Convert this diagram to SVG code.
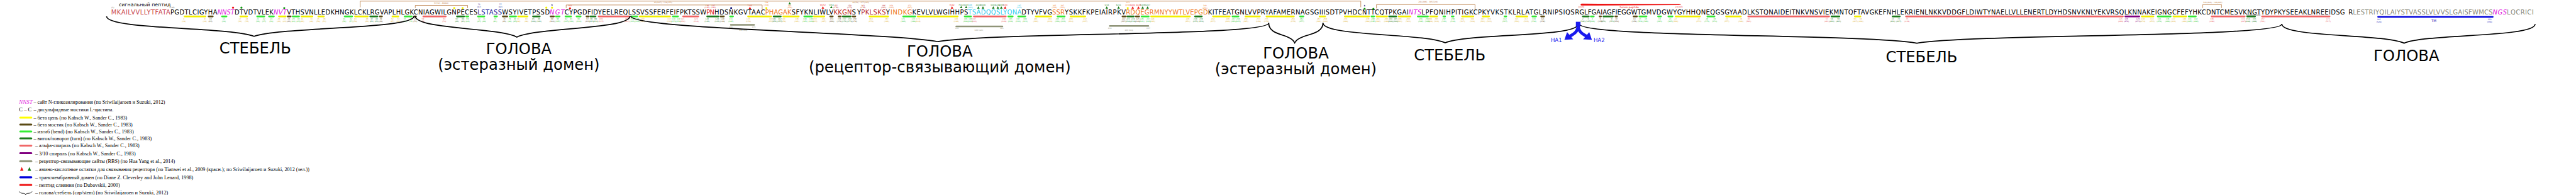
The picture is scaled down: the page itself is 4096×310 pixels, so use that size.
<svg xmlns="http://www.w3.org/2000/svg" width="4096" height="310" viewBox="0 0 4096 310">
<style>
.s{font-family:"DejaVu Sans",Verdana,sans-serif;font-size:16.5px;fill:#000}
.mi{fill:#e020e0;font-style:italic}
.n{font-family:"DejaVu Sans",Verdana,sans-serif;font-size:5px;text-anchor:middle}
.b{stroke-width:4.2;stroke-linecap:round;fill:none}
.y{stroke:#f2ee00}.g{stroke:#33e833}.dg{stroke:#1a7a1a}.br{stroke:#5a4a16}.r{stroke:#f06464}.p{stroke:#800080}.tm{stroke:#0000dd}.rb{stroke:#8f9478}
.ly{fill:#e0b030}.lg{fill:#33c833}.ldg{fill:#1a7a1a}.lbr{fill:#5a4a16}.lr{fill:#e85a5a}.lp{fill:#800080}.lb{fill:#2222bb}.lgr{fill:#999988}
.ss{stroke:#b87840;stroke-width:1.3;fill:none}
.brace{stroke:#000;stroke-width:2.8;fill:none}
.big{font-family:"DejaVu Sans",Verdana,sans-serif;font-size:40px;text-anchor:middle;fill:#000}
.leg{font-family:"Liberation Serif","Times New Roman",serif;font-size:14px;fill:#000}
.lgb{stroke-width:5;stroke-linecap:round}
</style>
<defs>
<path id="tri" d="M0,-5.5 L3.3,0.5 L-3.3,0.5Z"/>
<path id="star" d="M0,-2.6 L0.7,-0.8 L2.5,-0.8 L1.1,0.3 L1.6,2.1 L0,1 L-1.6,2.1 L-1.1,0.3 L-2.5,-0.8 L-0.7,-0.8Z"/>
</defs>
<g transform="scale(0.60745)">
<rect x="0" y="0" width="6743" height="511" fill="#fff"/>

<g id="signal-label">
<text x="311" y="17" style="font-family:'DejaVu Sans',sans-serif;font-size:13px">сигнальный пептид</text>
<text class="n" x="295" y="22" fill="#555">(1)</text>
<text class="n" x="450" y="22" fill="#555">1(16)</text>
</g>

<g id="sequence">
<text class="s" x="291" y="38" textLength="155" style="fill:#c8464e">MKAILVVLLYTFATA</text>
<text class="s" x="446" y="38" textLength="123">PGDTLCIGYHA</text>
<text class="s mi" x="569" y="38" textLength="45">NNST</text>
<text class="s" x="614" y="38" textLength="102">DTVDTVLEK</text>
<text class="s mi" x="716" y="38" textLength="35">NVT</text>
<text class="s" x="751" y="38" textLength="499">VTHSVNLLEDKHNGKLCKLRGVAPLHLGKCNIAGWILGNPECES</text>
<text class="s" x="1250" y="38" textLength="64" style="fill:#22229a">LSTASS</text>
<text class="s" x="1314" y="38" textLength="125">WSYIVETPSSD</text>
<text class="s mi" x="1439" y="38" textLength="39">NGT</text>
<text class="s" x="1478" y="38" textLength="371">CYPGDFIDYEELREQLSSVSSFERFEIFPKTSSW</text>
<text class="s" x="1849" y="38" textLength="21" style="fill:#e02020">PN</text>
<text class="s" x="1870" y="38" textLength="133">HDSNKGVTAAC</text>
<text class="s" x="2003" y="38" textLength="69" style="fill:#ee7722">PHAGAK</text>
<text class="s" x="2072" y="38" textLength="110">SFYKNLIWLV</text>
<text class="s" x="2182" y="38" textLength="48" style="fill:#b81c1c">KKGN</text>
<text class="s" x="2230" y="38" textLength="24">SY</text>
<text class="s" x="2254" y="38" textLength="65" style="fill:#b81c1c">PKLSKS</text>
<text class="s" x="2319" y="38">Y</text>
<text class="s" x="2331" y="38" textLength="57" style="fill:#ee7722">INDKG</text>
<text class="s" x="2388" y="38" textLength="146">KEVLVLWGIHHPS</text>
<text class="s" x="2534" y="38" textLength="140" style="fill:#33ccee">TSADQQSLYQNA</text>
<text class="s" x="2674" y="38" textLength="80">DTYVFVG</text>
<text class="s" x="2754" y="38" textLength="33" style="fill:#ee7722">SSR</text>
<text class="s" x="2787" y="38" textLength="160">YSKKFKPEIAIRPKV</text>
<text class="s" x="2947" y="38" textLength="215" style="fill:#ee7722">RDQEGRMNYYWTLVEPGD</text>
<text class="s" x="3162" y="38" textLength="525">KITFEATGNLVVPRYAFAMERNAGSGIIISDTPVHDCNTTCQTPKGAI</text>
<text class="s mi" x="3687" y="38" textLength="34">NTS</text>
<text class="s" x="3721" y="38" textLength="413">LPFQNIHPITIGKCPKYVKSTKLRLATGLRNIPSIQSR</text>
<text class="s" x="4134" y="38" textLength="162">GLFGAIAGFIEGGWT</text>
<text class="s" x="4296" y="38" textLength="610">GMVDGWYGYHHQNEQGSGYAADLKSTQNAIDEITNKVNSVIEKMNTQFTAVG</text>
<text class="s" x="4906" y="38" textLength="618">KEFNHLEKRIENLNKKVDDGFLDIWTYNAELLVLLENERTLDYHDSNVKNLYEKV</text>
<text class="s" x="5524" y="38" textLength="601">RSQLKNNAKEIGNGCFEFYHKCDNTCMESVKNGTYDYPKYSEEAKLNREEIDS</text>
<text class="s" x="6125" y="38" textLength="34">GR</text>
<text class="s" x="6159" y="38" textLength="366" style="fill:#8a8a7a">LESTRIYQILAIYSTVASSLVLVVSLGAISFWMCS</text>
<text class="s mi" x="6525" y="38" textLength="37">NGS</text>
<text class="s" x="6562" y="38" textLength="70" style="fill:#8a8a7a">LQCRICI</text>
<line x1="5880" y1="39.5" x2="5917" y2="39.5" stroke="#777" stroke-width="1.5"/>
</g>

<g id="secondary-structure">
<g class="b y">
<line x1="483" y1="43" x2="538" y2="43"/><line x1="629" y1="43" x2="647" y2="43"/><line x1="730" y1="43" x2="748" y2="43"/><line x1="789" y1="43" x2="818" y2="43"/><line x1="833" y1="43" x2="848" y2="43"/><line x1="929" y1="43" x2="963" y2="43"/><line x1="1027" y1="43" x2="1043" y2="43"/><line x1="1356" y1="43" x2="1381" y2="43"/><line x1="1674" y1="43" x2="1754" y2="43"/><line x1="1958" y1="43" x2="2019" y2="43"/><line x1="2050" y1="43" x2="2091" y2="43"/><line x1="2130" y1="43" x2="2158" y2="43"/><line x1="2276" y1="43" x2="2325" y2="43"/><line x1="2402" y1="43" x2="2507" y2="43"/><line x1="2711" y1="43" x2="2752" y2="43"/><line x1="2802" y1="43" x2="2841" y2="43"/><line x1="3013" y1="43" x2="3115" y2="43"/><line x1="3175" y1="43" x2="3219" y2="43"/><line x1="3260" y1="43" x2="3298" y2="43"/><line x1="3315" y1="43" x2="3387" y2="43"/><line x1="3454" y1="43" x2="3469" y2="43"/><line x1="3520" y1="43" x2="3584" y2="43"/><line x1="3603" y1="43" x2="3631" y2="43"/><line x1="3661" y1="43" x2="3692" y2="43"/><line x1="3743" y1="43" x2="3762" y2="43"/><line x1="3827" y1="43" x2="3857" y2="43"/><line x1="3881" y1="43" x2="3898" y2="43"/><line x1="3969" y1="43" x2="3998" y2="43"/><line x1="4386" y1="43" x2="4450" y2="43"/><line x1="4518" y1="43" x2="4557" y2="43"/><line x1="4855" y1="43" x2="4870" y2="43"/><line x1="5606" y1="43" x2="5637" y2="43"/><line x1="5689" y1="43" x2="5723" y2="43"/>
</g>
<g class="b g">
<line x1="581" y1="43" x2="593" y2="43"/><line x1="673" y1="43" x2="692" y2="43"/><line x1="704" y1="43" x2="717" y2="43"/><line x1="766" y1="43" x2="783" y2="43"/><line x1="902" y1="43" x2="922" y2="43"/><line x1="1059" y1="43" x2="1078" y2="43"/><line x1="1220" y1="43" x2="1226" y2="43"/><line x1="1251" y1="43" x2="1268" y2="43"/><line x1="1294" y1="43" x2="1301" y2="43"/><line x1="1334" y1="43" x2="1351" y2="43"/><line x1="1455" y1="43" x2="1465" y2="43"/><line x1="1480" y1="43" x2="1495" y2="43"/><line x1="1509" y1="43" x2="1520" y2="43"/><line x1="1652" y1="43" x2="1668" y2="43"/><line x1="1761" y1="43" x2="1775" y2="43"/><line x1="1911" y1="43" x2="1919" y2="43"/><line x1="2105" y1="43" x2="2126" y2="43"/><line x1="2364" y1="43" x2="2396" y2="43"/><line x1="2525" y1="43" x2="2542" y2="43"/><line x1="2639" y1="43" x2="2651" y2="43"/><line x1="2665" y1="43" x2="2684" y2="43"/><line x1="2768" y1="43" x2="2787" y2="43"/><line x1="2988" y1="43" x2="3007" y2="43"/><line x1="3226" y1="43" x2="3242" y2="43"/><line x1="3403" y1="43" x2="3412" y2="43"/><line x1="3590" y1="43" x2="3597" y2="43"/><line x1="3711" y1="43" x2="3738" y2="43"/><line x1="3778" y1="43" x2="3783" y2="43"/><line x1="3800" y1="43" x2="3805" y2="43"/><line x1="3938" y1="43" x2="3943" y2="43"/><line x1="4011" y1="43" x2="4021" y2="43"/><line x1="4164" y1="43" x2="4172" y2="43"/><line x1="4291" y1="43" x2="4310" y2="43"/><line x1="4340" y1="43" x2="4348" y2="43"/><line x1="4367" y1="43" x2="4378" y2="43"/><line x1="4469" y1="43" x2="4488" y2="43"/><line x1="5648" y1="43" x2="5682" y2="43"/><line x1="5729" y1="43" x2="5748" y2="43"/>
</g>
<g class="b dg">
<line x1="969" y1="43" x2="988" y2="43"/><line x1="1196" y1="43" x2="1215" y2="43"/><line x1="1395" y1="43" x2="1413" y2="43"/><line x1="1545" y1="43" x2="1559" y2="43"/><line x1="1851" y1="43" x2="1881" y2="43"/><line x1="2025" y1="43" x2="2044" y2="43"/><line x1="2206" y1="43" x2="2227" y2="43"/><line x1="2951" y1="43" x2="2968" y2="43"/><line x1="3128" y1="43" x2="3146" y2="43"/><line x1="3636" y1="43" x2="3655" y2="43"/><line x1="4143" y1="43" x2="4159" y2="43"/><line x1="4197" y1="43" x2="4222" y2="43"/><line x1="4794" y1="43" x2="4815" y2="43"/><line x1="4954" y1="43" x2="4973" y2="43"/><line x1="5882" y1="43" x2="5903" y2="43"/>
</g>
<g class="b br">
<line x1="546" y1="43" x2="557" y2="43"/><line x1="753" y1="43" x2="761" y2="43"/><line x1="994" y1="43" x2="1000" y2="43"/><line x1="1084" y1="43" x2="1089" y2="43"/><line x1="1316" y1="43" x2="1328" y2="43"/><line x1="1441" y1="43" x2="1450" y2="43"/><line x1="1535" y1="43" x2="1541" y2="43"/><line x1="1886" y1="43" x2="1895" y2="43"/><line x1="2173" y1="43" x2="2180" y2="43"/><line x1="2195" y1="43" x2="2201" y2="43"/><line x1="2232" y1="43" x2="2239" y2="43"/><line x1="2938" y1="43" x2="2947" y2="43"/><line x1="2973" y1="43" x2="2982" y2="43"/><line x1="4034" y1="43" x2="4042" y2="43"/><line x1="4187" y1="43" x2="4191" y2="43"/><line x1="4228" y1="43" x2="4233" y2="43"/><line x1="4276" y1="43" x2="4285" y2="43"/>
</g>
<g class="b r">
<line x1="1108" y1="43" x2="1167" y2="43"/><line x1="1567" y1="43" x2="1647" y2="43"/><line x1="1788" y1="43" x2="1828" y2="43"/><line x1="2549" y1="43" x2="2633" y2="43"/><line x1="4576" y1="43" x2="4788" y2="43"/><line x1="4989" y1="43" x2="5557" y2="43"/><line x1="5789" y1="43" x2="5876" y2="43"/><line x1="5921" y1="43" x2="6098" y2="43"/>
</g>
<line class="b p" x1="5563" y1="43" x2="5600" y2="43"/>
<line class="b tm" x1="6225" y1="44" x2="6525" y2="44"/>
<g class="b rb">
<line x1="1913" y1="65" x2="1974" y2="65"/><line x1="2503" y1="69" x2="2624" y2="69"/><line x1="2905" y1="68" x2="3006" y2="68"/>
</g>
</g>

<g id="residue-numbers">
<g class="n ly">
<text x="481" y="51">4<tspan x="481" dy="6.5">(19)</tspan></text><text x="536" y="51">9<tspan x="536" dy="6.5">(24)</tspan></text><text x="628" y="51">17<tspan x="628" dy="6.5">(32)</tspan></text><text x="646" y="51">18<tspan x="646" dy="6.5">(33)</tspan></text><text x="730" y="51">26<tspan x="730" dy="6.5">(41)</tspan></text><text x="745" y="51">27<tspan x="745" dy="6.5">(42)</tspan></text><text x="791" y="51">31<tspan x="791" dy="6.5">(46)</tspan></text><text x="815" y="51">33<tspan x="815" dy="6.5">(48)</tspan></text><text x="833" y="51">35<tspan x="833" dy="6.5">(50)</tspan></text><text x="849" y="51">36<tspan x="849" dy="6.5">(51)</tspan></text><text x="930" y="51">43<tspan x="930" dy="6.5">(58)</tspan></text><text x="961" y="51">46<tspan x="961" dy="6.5">(61)</tspan></text><text x="1027" y="51">52<tspan x="1027" dy="6.5">(67)</tspan></text><text x="1043" y="51">53<tspan x="1043" dy="6.5">(68)</tspan></text><text x="1357" y="51">81<tspan x="1357" dy="6.5">(96)</tspan></text><text x="1378" y="51">83<tspan x="1378" dy="6.5">(98)</tspan></text><text x="1682" y="51">110<tspan x="1682" dy="6.5">(125)</tspan></text><text x="1752" y="51">117<tspan x="1752" dy="6.5">(132)</tspan></text><text x="1959" y="51">135<tspan x="1959" dy="6.5">(150)</tspan></text><text x="2018" y="51">140<tspan x="2018" dy="6.5">(155)</tspan></text><text x="2051" y="51">143<tspan x="2051" dy="6.5">(158)</tspan></text><text x="2086" y="51">146<tspan x="2086" dy="6.5">(161)</tspan></text><text x="2133" y="51">150<tspan x="2133" dy="6.5">(165)</tspan></text><text x="2156" y="51">152<tspan x="2156" dy="6.5">(167)</tspan></text><text x="2280" y="51">163<tspan x="2280" dy="6.5">(178)</tspan></text><text x="2321" y="51">167<tspan x="2321" dy="6.5">(182)</tspan></text><text x="2403" y="51">174<tspan x="2403" dy="6.5">(189)</tspan></text><text x="2503" y="51">183<tspan x="2503" dy="6.5">(198)</tspan></text><text x="2711" y="51">201<tspan x="2711" dy="6.5">(216)</tspan></text><text x="2748" y="51">204<tspan x="2748" dy="6.5">(219)</tspan></text><text x="2803" y="51">209<tspan x="2803" dy="6.5">(224)</tspan></text><text x="2840" y="51">212<tspan x="2840" dy="6.5">(227)</tspan></text><text x="3017" y="51">228<tspan x="3017" dy="6.5">(243)</tspan></text><text x="3109" y="51">236<tspan x="3109" dy="6.5">(251)</tspan></text><text x="3175" y="51">242<tspan x="3175" dy="6.5">(257)</tspan></text><text x="3214" y="51">246<tspan x="3214" dy="6.5">(261)</tspan></text><text x="3261" y="51">250<tspan x="3261" dy="6.5">(265)</tspan></text><text x="3294" y="51">253<tspan x="3294" dy="6.5">(268)</tspan></text><text x="3315" y="51">255<tspan x="3315" dy="6.5">(270)</tspan></text><text x="3385" y="51">261<tspan x="3385" dy="6.5">(276)</tspan></text><text x="3452" y="51">267<tspan x="3452" dy="6.5">(282)</tspan></text><text x="3469" y="51">269<tspan x="3469" dy="6.5">(284)</tspan></text><text x="3522" y="51">274<tspan x="3522" dy="6.5">(289)</tspan></text><text x="3580" y="51">279<tspan x="3580" dy="6.5">(294)</tspan></text><text x="3607" y="51">281<tspan x="3607" dy="6.5">(296)</tspan></text><text x="3629" y="51">283<tspan x="3629" dy="6.5">(298)</tspan></text><text x="3664" y="51">286<tspan x="3664" dy="6.5">(301)</tspan></text><text x="3686" y="51">288<tspan x="3686" dy="6.5">(303)</tspan></text><text x="3744" y="51">294<tspan x="3744" dy="6.5">(309)</tspan></text><text x="3760" y="51">295<tspan x="3760" dy="6.5">(310)</tspan></text><text x="3828" y="51">302<tspan x="3828" dy="6.5">(317)</tspan></text><text x="3854" y="51">304<tspan x="3854" dy="6.5">(319)</tspan></text><text x="3881" y="51">307<tspan x="3881" dy="6.5">(322)</tspan></text><text x="3898" y="51">308<tspan x="3898" dy="6.5">(323)</tspan></text><text x="3970" y="51">315<tspan x="3970" dy="6.5">(330)</tspan></text><text x="3995" y="51">317<tspan x="3995" dy="6.5">(332)</tspan></text><text x="4386" y="51">22<tspan x="4386" dy="6.5">(366)</tspan></text><text x="4447" y="51">27<tspan x="4447" dy="6.5">(371)</tspan></text><text x="4520" y="51">33<tspan x="4520" dy="6.5">(377)</tspan></text><text x="4557" y="51">36<tspan x="4557" dy="6.5">(380)</tspan></text><text x="4856" y="51">63<tspan x="4856" dy="6.5">(407)</tspan></text><text x="4871" y="51">64<tspan x="4871" dy="6.5">(408)</tspan></text><text x="5609" y="51">130<tspan x="5609" dy="6.5">(474)</tspan></text><text x="5633" y="51">132<tspan x="5633" dy="6.5">(476)</tspan></text><text x="5689" y="51">137<tspan x="5689" dy="6.5">(481)</tspan></text><text x="5718" y="51">140<tspan x="5718" dy="6.5">(484)</tspan></text>
</g>
<g class="n lg">
<text x="586" y="51">13<tspan x="586" dy="6.5">(28)</tspan></text><text x="675" y="51">21<tspan x="675" dy="6.5">(36)</tspan></text><text x="691" y="51">22<tspan x="691" dy="6.5">(37)</tspan></text><text x="710" y="51">24<tspan x="710" dy="6.5">(39)</tspan></text><text x="768" y="51">29<tspan x="768" dy="6.5">(44)</tspan></text><text x="781" y="51">30<tspan x="781" dy="6.5">(45)</tspan></text><text x="901" y="51">41<tspan x="901" dy="6.5">(56)</tspan></text><text x="919" y="51">42<tspan x="919" dy="6.5">(57)</tspan></text><text x="1060" y="51">55<tspan x="1060" dy="6.5">(70)</tspan></text><text x="1076" y="51">56<tspan x="1076" dy="6.5">(71)</tspan></text><text x="1224" y="51">69<tspan x="1224" dy="6.5">(84)</tspan></text><text x="1254" y="51">72<tspan x="1254" dy="6.5">(87)</tspan></text><text x="1267" y="51">73<tspan x="1267" dy="6.5">(88)</tspan></text><text x="1296" y="51">76<tspan x="1296" dy="6.5">(91)</tspan></text><text x="1334" y="51">79<tspan x="1334" dy="6.5">(94)</tspan></text><text x="1348" y="51">80<tspan x="1348" dy="6.5">(95)</tspan></text><text x="1460" y="51">90<tspan x="1460" dy="6.5">(105)</tspan></text><text x="1482" y="51">92<tspan x="1482" dy="6.5">(107)</tspan></text><text x="1495" y="51">93<tspan x="1495" dy="6.5">(108)</tspan></text><text x="1515" y="51">95<tspan x="1515" dy="6.5">(110)</tspan></text><text x="1655" y="51">108<tspan x="1655" dy="6.5">(123)</tspan></text><text x="1668" y="51">109<tspan x="1668" dy="6.5">(124)</tspan></text><text x="1763" y="51">118<tspan x="1763" dy="6.5">(133)</tspan></text><text x="1776" y="51">119<tspan x="1776" dy="6.5">(134)</tspan></text><text x="1913" y="51">131<tspan x="1913" dy="6.5">(146)</tspan></text><text x="2107" y="51">148<tspan x="2107" dy="6.5">(163)</tspan></text><text x="2123" y="51">149<tspan x="2123" dy="6.5">(164)</tspan></text><text x="2364" y="51">171<tspan x="2364" dy="6.5">(186)</tspan></text><text x="2391" y="51">173<tspan x="2391" dy="6.5">(188)</tspan></text><text x="2528" y="51">185<tspan x="2528" dy="6.5">(200)</tspan></text><text x="2540" y="51">186<tspan x="2540" dy="6.5">(201)</tspan></text><text x="2645" y="51">195<tspan x="2645" dy="6.5">(210)</tspan></text><text x="2665" y="51">197<tspan x="2665" dy="6.5">(212)</tspan></text><text x="2683" y="51">198<tspan x="2683" dy="6.5">(213)</tspan></text><text x="2768" y="51">205<tspan x="2768" dy="6.5">(220)</tspan></text><text x="2783" y="51">207<tspan x="2783" dy="6.5">(222)</tspan></text><text x="2989" y="51">226<tspan x="2989" dy="6.5">(241)</tspan></text><text x="3006" y="51">227<tspan x="3006" dy="6.5">(242)</tspan></text><text x="3229" y="51">247<tspan x="3229" dy="6.5">(262)</tspan></text><text x="3241" y="51">248<tspan x="3241" dy="6.5">(263)</tspan></text><text x="3407" y="51">262<tspan x="3407" dy="6.5">(277)</tspan></text><text x="3594" y="51">280<tspan x="3594" dy="6.5">(295)</tspan></text><text x="3719" y="51">291<tspan x="3719" dy="6.5">(306)</tspan></text><text x="3736" y="51">293<tspan x="3736" dy="6.5">(308)</tspan></text><text x="3780" y="51">297<tspan x="3780" dy="6.5">(312)</tspan></text><text x="3803" y="51">299<tspan x="3803" dy="6.5">(314)</tspan></text><text x="3939" y="51">312<tspan x="3939" dy="6.5">(327)</tspan></text><text x="4015" y="51">319<tspan x="4015" dy="6.5">(334)</tspan></text><text x="4168" y="51">4<tspan x="4168" dy="6.5">(348)</tspan></text><text x="4293" y="51">15<tspan x="4293" dy="6.5">(359)</tspan></text><text x="4308" y="51">16<tspan x="4308" dy="6.5">(360)</tspan></text><text x="4344" y="51">19<tspan x="4344" dy="6.5">(363)</tspan></text><text x="4372" y="51">21<tspan x="4372" dy="6.5">(365)</tspan></text><text x="4468" y="51">29<tspan x="4468" dy="6.5">(373)</tspan></text><text x="4488" y="51">30<tspan x="4488" dy="6.5">(374)</tspan></text><text x="5652" y="51">134<tspan x="5652" dy="6.5">(478)</tspan></text><text x="5674" y="51">136<tspan x="5674" dy="6.5">(480)</tspan></text><text x="5732" y="51">141<tspan x="5732" dy="6.5">(485)</tspan></text><text x="5748" y="51">142<tspan x="5748" dy="6.5">(486)</tspan></text>
</g>
<g class="n ldg">
<text x="973" y="51">47<tspan x="973" dy="6.5">(62)</tspan></text><text x="986" y="51">48<tspan x="986" dy="6.5">(63)</tspan></text><text x="1196" y="51">67<tspan x="1196" dy="6.5">(82)</tspan></text><text x="1212" y="51">68<tspan x="1212" dy="6.5">(83)</tspan></text><text x="1396" y="51">85<tspan x="1396" dy="6.5">(100)</tspan></text><text x="1411" y="51">86<tspan x="1411" dy="6.5">(101)</tspan></text><text x="1548" y="51">98<tspan x="1548" dy="6.5">(113)</tspan></text><text x="1559" y="51">99<tspan x="1559" dy="6.5">(114)</tspan></text><text x="1851" y="51">126<tspan x="1851" dy="6.5">(141)</tspan></text><text x="1877" y="51">128<tspan x="1877" dy="6.5">(143)</tspan></text><text x="2027" y="51">141<tspan x="2027" dy="6.5">(156)</tspan></text><text x="2041" y="51">142<tspan x="2041" dy="6.5">(157)</tspan></text><text x="2210" y="51">157<tspan x="2210" dy="6.5">(172)</tspan></text><text x="2224" y="51">158<tspan x="2224" dy="6.5">(173)</tspan></text><text x="2953" y="51">223<tspan x="2953" dy="6.5">(238)</tspan></text><text x="2966" y="51">224<tspan x="2966" dy="6.5">(239)</tspan></text><text x="3129" y="51">238<tspan x="3129" dy="6.5">(253)</tspan></text><text x="3144" y="51">239<tspan x="3144" dy="6.5">(254)</tspan></text><text x="3640" y="51">284<tspan x="3640" dy="6.5">(299)</tspan></text><text x="3653" y="51">285<tspan x="3653" dy="6.5">(300)</tspan></text><text x="4143" y="51">2<tspan x="4143" dy="6.5">(346)</tspan></text><text x="4157" y="51">3<tspan x="4157" dy="6.5">(347)</tspan></text><text x="4197" y="51">7<tspan x="4197" dy="6.5">(351)</tspan></text><text x="4219" y="51">9<tspan x="4219" dy="6.5">(353)</tspan></text><text x="4795" y="51">58<tspan x="4795" dy="6.5">(402)</tspan></text><text x="4812" y="51">59<tspan x="4812" dy="6.5">(403)</tspan></text><text x="4954" y="51">72<tspan x="4954" dy="6.5">(416)</tspan></text><text x="4970" y="51">73<tspan x="4970" dy="6.5">(417)</tspan></text><text x="5884" y="51">154<tspan x="5884" dy="6.5">(498)</tspan></text><text x="5901" y="51">155<tspan x="5901" dy="6.5">(499)</tspan></text>
</g>
<g class="n lbr">
<text x="551" y="51">10<tspan x="551" dy="6.5">(25)</tspan></text><text x="756" y="51">28<tspan x="756" dy="6.5">(43)</tspan></text><text x="997" y="51">49<tspan x="997" dy="6.5">(64)</tspan></text><text x="1087" y="51">57<tspan x="1087" dy="6.5">(72)</tspan></text><text x="1320" y="51">78<tspan x="1320" dy="6.5">(93)</tspan></text><text x="1445" y="51">89<tspan x="1445" dy="6.5">(104)</tspan></text><text x="1538" y="51">97<tspan x="1538" dy="6.5">(112)</tspan></text><text x="1891" y="51">129<tspan x="1891" dy="6.5">(144)</tspan></text><text x="2177" y="51">154<tspan x="2177" dy="6.5">(169)</tspan></text><text x="2197" y="51">156<tspan x="2197" dy="6.5">(171)</tspan></text><text x="2237" y="51">159<tspan x="2237" dy="6.5">(174)</tspan></text><text x="2941" y="51">222<tspan x="2941" dy="6.5">(237)</tspan></text><text x="2978" y="51">225<tspan x="2978" dy="6.5">(240)</tspan></text><text x="4038" y="51">321<tspan x="4038" dy="6.5">(336)</tspan></text><text x="4189" y="51">6<tspan x="4189" dy="6.5">(350)</tspan></text><text x="4231" y="51">10<tspan x="4231" dy="6.5">(354)</tspan></text><text x="4278" y="51">14<tspan x="4278" dy="6.5">(358)</tspan></text>
</g>
<g class="n lr">
<text x="1107" y="51">59<tspan x="1107" dy="6.5">(74)</tspan></text><text x="1163" y="51">64<tspan x="1163" dy="6.5">(79)</tspan></text><text x="1573" y="51">100<tspan x="1573" dy="6.5">(115)</tspan></text><text x="1641" y="51">107<tspan x="1641" dy="6.5">(122)</tspan></text><text x="1787" y="51">121<tspan x="1787" dy="6.5">(136)</tspan></text><text x="1822" y="51">124<tspan x="1822" dy="6.5">(139)</tspan></text><text x="2550" y="51">187<tspan x="2550" dy="6.5">(202)</tspan></text><text x="2628" y="51">194<tspan x="2628" dy="6.5">(209)</tspan></text><text x="4577" y="51">38<tspan x="4577" dy="6.5">(382)</tspan></text><text x="4782" y="51">57<tspan x="4782" dy="6.5">(401)</tspan></text><text x="4992" y="51">75<tspan x="4992" dy="6.5">(419)</tspan></text><text x="5551" y="51">125<tspan x="5551" dy="6.5">(469)</tspan></text><text x="5790" y="51">146<tspan x="5790" dy="6.5">(490)</tspan></text><text x="5872" y="51">153<tspan x="5872" dy="6.5">(497)</tspan></text><text x="5923" y="51">157<tspan x="5923" dy="6.5">(501)</tspan></text><text x="6094" y="51">173<tspan x="6094" dy="6.5">(517)</tspan></text>
</g>
<g class="n lp">
<text x="5566" y="51">126<tspan x="5566" dy="6.5">(470)</tspan></text><text x="5596" y="51">129<tspan x="5596" dy="6.5">(473)</tspan></text>
</g>
<g class="n lb">
<text x="6227" y="52">185<tspan x="6227" dy="6.5">(529)</tspan></text><text x="6517" y="52">222<tspan x="6517" dy="6.5">(556)</tspan></text>
<text x="6371" y="58" style="font-size:9px">TM</text>
</g>
<g class="n lgr">
<text x="1913" y="73">131</text><text x="1973" y="73">135</text><text x="1945" y="80">130 loop</text>
<text x="2505" y="76">183</text><text x="2622" y="76">193</text><text x="2562" y="81">180 helix</text>
<text x="2905" y="75">219</text><text x="3006" y="75">227</text><text x="2955" y="80">220 loop</text>
</g>
</g>

<g id="site-markers">
<circle cx="610" cy="20" r="2.6" fill="#ee1111"/><circle cx="632" cy="20" r="2.6" fill="#119911"/><circle cx="744" cy="21" r="2.6" fill="#119911"/>
<circle cx="1189" cy="21" r="2.6" fill="#f0f000"/><circle cx="1211" cy="21" r="2.6" fill="#f0f000"/><circle cx="1430" cy="20" r="2.6" fill="#f0f000"/><circle cx="1445" cy="20" r="2.6" fill="#f0f000"/>
<circle cx="1914" cy="21" r="2.6" fill="#141470"/><circle cx="2006" cy="21" r="2.6" fill="#f0f000"/><circle cx="2952" cy="21" r="2.6" fill="#f0f000"/>
<circle cx="3572" cy="23" r="2.6" fill="#119911"/><circle cx="3595" cy="23" r="2.6" fill="#119911"/>
<use href="#star" x="1445" y="13" fill="#141470"/><use href="#star" x="3572" y="15" fill="#141470"/>
<g fill="#ee1111">
<use href="#tri" x="1492" y="23"/><use href="#tri" x="1963" y="23"/><use href="#tri" x="2154" y="22"/><use href="#tri" x="2492" y="22"/><use href="#tri" x="2631" y="22"/><use href="#tri" x="2965" y="22"/><use href="#tri" x="2980" y="22"/>
</g>
<g fill="#117711">
<use href="#tri" x="2067" y="11"/><use href="#tri" x="2176" y="21"/><use href="#tri" x="2516" y="21"/><use href="#tri" x="2529" y="21"/><use href="#tri" x="2561" y="22"/><use href="#tri" x="2573" y="22"/><use href="#tri" x="2600" y="22"/><use href="#tri" x="2612" y="22"/><use href="#tri" x="2621" y="22"/><use href="#tri" x="2897" y="22"/><use href="#tri" x="2928" y="22"/><use href="#tri" x="2991" y="22"/><use href="#tri" x="3004" y="22"/>
</g>
<g class="n" fill="#ee1111">
<text x="1492" y="16">Y93</text><text x="1963" y="16">T135</text><text x="2154" y="14">W152</text><text x="2492" y="15">H182</text><text x="2631" y="15">Y194</text><text x="2965" y="15">D224</text><text x="2980" y="15">Q225</text>
</g>
<g class="n" fill="#117711">
<text x="2176" y="14">V154</text><text x="2516" y="14">P184</text><text x="2529" y="14">S185</text><text x="2561" y="15">A188</text><text x="2573" y="15">D189</text><text x="2600" y="15">Q191</text><text x="2612" y="15">S192</text><text x="2621" y="15">L193</text><text x="2897" y="15">I218</text><text x="2928" y="15">K221</text><text x="2991" y="15">E226</text><text x="3004" y="15">G227</text>
</g>
<g class="n" fill="#333399"><text x="1254" y="13">72<tspan x="1254" dy="6">(87)</tspan></text><text x="1310" y="13">77<tspan x="1310" dy="6">(92)</tspan></text></g>
<g class="n" fill="#e02020"><text x="1851" y="16">126<tspan x="1851" dy="6">(141)</tspan></text><text x="1867" y="16">127<tspan x="1867" dy="6">(142)</tspan></text></g>
<g class="n" fill="#b81c1c"><text x="2188" y="16">155<tspan x="2188" dy="6">(170)</tspan></text><text x="2224" y="16">158<tspan x="2224" dy="6">(173)</tspan></text><text x="2259" y="16">161<tspan x="2259" dy="6">(176)</tspan></text><text x="2313" y="16">166<tspan x="2313" dy="6">(181)</tspan></text></g>
<g class="n" fill="#ee7722"><text x="2006" y="8">139<tspan x="2006" dy="6">(154)</tspan></text><text x="2067" y="16">144<tspan x="2067" dy="6">(159)</tspan></text><text x="2333" y="16">168<tspan x="2333" dy="6">(183)</tspan></text><text x="2381" y="16">172<tspan x="2381" dy="6">(187)</tspan></text><text x="2760" y="16">205<tspan x="2760" dy="6">(220)</tspan></text><text x="2781" y="16">207<tspan x="2781" dy="6">(222)</tspan></text><text x="2952" y="8">223<tspan x="2952" dy="6">(238)</tspan></text><text x="3154" y="17">240<tspan x="3154" dy="6">(255)</tspan></text></g>
<g class="n" fill="#22bbdd"><text x="2540" y="15">186<tspan x="2540" dy="6">(201)</tspan></text><text x="2668" y="16">197<tspan x="2668" dy="6">(212)</tspan></text></g>
</g>

<g id="fusion-peptide">
<path d="M4140,9.5 L4395,10.8 Q4406,12 4395,13.2 L4140,14.5 A2.5,2.5 0 0 1 4140,9.5Z" fill="#ee1111"/>
<text class="n" x="4139" y="20" fill="#ee1111">1(345)</text>
<text class="n" x="4395" y="20" fill="#ee1111">23(367)</text>
<text x="4265" y="22" fill="#ee1111" style="font-family:'DejaVu Sans',sans-serif;font-size:7px;text-anchor:middle">fusion peptide</text>
</g>

<g id="connectors">
<g class="ss">
<path d="M943,19 V3 H3562 V19"/>
<path d="M1087,21 V14 H1224 V21"/>
<path d="M1482,21 V13 H1995 V24"/>
<path d="M3603,22 V12 H3861 V23"/>
<path d="M5766,21 V12 H5815 V21"/>
</g>
<g class="n" fill="#b87840">
<text x="2253" y="8.5">44(59) - 277(292)</text>
<text x="1155" y="10">57(72) - 69(84)</text>
<text x="1736" y="9">92(107) - 138(153)</text>
<text x="3738" y="7">281(296) - 305(320)</text>
<text x="5792" y="8">144(488) - 148(492)</text>
</g>
<g class="brace">
<path d="M279,43 C279,78 599,70 665,95 C736,70 1084,77 1084,42"/>
<path d="M1087,42 C1087,77 1308,72 1353,97 C1402,72 1649,77 1649,42"/>
<path d="M1651,42 C1651,77 2318,84 2455,109 C2602,84 3321,95 3321,60"/>
<path d="M3321,60 C3321,95 3377,87 3389,112 C3402,87 3463,95 3463,60"/>
<path d="M3463,60 C3463,95 3729,87 3783,112 C3842,87 4131,98 4131,63"/>
<path d="M4135,63 C4135,98 4867,88 5017,113 C5180,88 5973,98 5973,63"/>
<path d="M5973,63 C5973,98 6239,88 6293,113 C6351,88 6636,98 6636,63"/>
</g>
</g>

<g id="cleavage-arrow" fill="#1a1aee" stroke="none">
<rect x="4125" y="57" width="12" height="12"/>
<path d="M4131,64 C4131,82 4122,88 4109,95" stroke="#1a1aee" stroke-width="8" fill="none"/>
<path d="M4131,64 C4131,82 4140,88 4153,95" stroke="#1a1aee" stroke-width="8" fill="none"/>
<polygon points="4095,104 4102,84 4118,103"/>
<polygon points="4167,104 4160,84 4144,103"/>
<text x="4074" y="110" style="font-family:'DejaVu Sans',sans-serif;font-size:14px;text-anchor:middle">HA1</text>
<text x="4186" y="110" style="font-family:'DejaVu Sans',sans-serif;font-size:14px;text-anchor:middle">HA2</text>
</g>

<g id="label-stem-1"><text class="big" x="668" y="140">СТЕБЕЛЬ</text></g>
<g id="label-head-esterase-1"><text class="big" x="1358" y="142">ГОЛОВА</text><text class="big" x="1358" y="182">(эстеразный домен)</text></g>
<g id="label-head-rbd"><text class="big" x="2460" y="148">ГОЛОВА</text><text class="big" x="2460" y="190">(рецептор-связывающий домен)</text></g>
<g id="label-head-esterase-2"><text class="big" x="3392" y="153">ГОЛОВА</text><text class="big" x="3392" y="194">(эстеразный домен)</text></g>
<g id="label-stem-2"><text class="big" x="3795" y="158">СТЕБЕЛЬ</text></g>
<g id="label-stem-3"><text class="big" x="5030" y="163">СТЕБЕЛЬ</text></g>
<g id="label-head-last"><text class="big" x="6299" y="160">ГОЛОВА</text></g>

<g id="legend">
<text class="leg" x="50" y="272" textLength="35" lengthAdjust="spacingAndGlyphs" style="fill:#e020e0;font-style:italic">NNST</text>
<text class="leg" x="88" y="272" textLength="344" lengthAdjust="spacingAndGlyphs">– сайт N-гликозилирования (по Sriwilaijaroen и Suzuki, 2012)</text>
<text class="leg" x="50" y="292">C <tspan fill="#b08060">–</tspan> C</text>
<text class="leg" x="88" y="292" textLength="209" lengthAdjust="spacingAndGlyphs">– дисульфидные мостики L-цистина.</text>
<line class="lgb" x1="53" y1="308" x2="82" y2="308" stroke="#ffff00"/>
<text class="leg" x="88" y="313" textLength="245" lengthAdjust="spacingAndGlyphs">– бета цепь (по Kabsch W., Sander C., 1983)</text>
<line class="lgb" x1="53" y1="326" x2="82" y2="326" stroke="#5a4a14"/>
<text class="leg" x="88" y="331" textLength="259" lengthAdjust="spacingAndGlyphs">– бета мостик (по Kabsch W., Sander C., 1983)</text>
<line class="lgb" x1="53" y1="344" x2="82" y2="344" stroke="#33ee33"/>
<text class="leg" x="88" y="349" textLength="262" lengthAdjust="spacingAndGlyphs">– изгиб (bend) (по Kabsch W., Sander C., 1983)</text>
<line class="lgb" x1="53" y1="362" x2="82" y2="362" stroke="#1a7a1a"/>
<text class="leg" x="88" y="367" textLength="309" lengthAdjust="spacingAndGlyphs">– виток/поворот (turn) (по Kabsch W., Sander C., 1983)</text>
<line class="lgb" x1="53" y1="381" x2="82" y2="381" stroke="#f06868"/>
<text class="leg" x="92" y="386" textLength="273" lengthAdjust="spacingAndGlyphs">– альфа-спираль (по Kabsch W., Sander C., 1983)</text>
<line class="lgb" x1="53" y1="401" x2="82" y2="401" stroke="#800080"/>
<text class="leg" x="92" y="406" textLength="263" lengthAdjust="spacingAndGlyphs">– 3/10 спираль (по Kabsch W., Sander C., 1983)</text>
<line class="lgb" x1="53" y1="422" x2="82" y2="422" stroke="#8f9478"/>
<text class="leg" x="92" y="427" textLength="366" lengthAdjust="spacingAndGlyphs">– рецептор-связывающие сайты (RBS) (по Hua Yang et al., 2014)</text>
<polygon points="57,437 61.5,447 52.5,447" fill="#ee1111"/><polygon points="77,437 81.5,447 72.5,447" fill="#117711"/>
<text class="leg" x="92" y="447" textLength="718" lengthAdjust="spacingAndGlyphs">– амино-кислотные остатки для связывания рецептора (по Tianwei et al., 2009 (красн.); по Sriwilaijaroen и Suzuki, 2012 (зел.))</text>
<line class="lgb" x1="53" y1="464" x2="82" y2="464" stroke="#0000dd"/>
<text class="leg" x="92" y="469" textLength="414" lengthAdjust="spacingAndGlyphs">– трансмембранный домен (по Diane Z. Cleverley and John Lenard, 1998)</text>
<line class="lgb" x1="53" y1="484" x2="82" y2="484" stroke="#ee1111"/>
<text class="leg" x="92" y="489" textLength="222" lengthAdjust="spacingAndGlyphs">– пептид слияния (по Dubovskii, 2000)</text>
<path d="M50,501 Q52,506 62,506 Q66,506 67,510 Q68,506 72,506 Q82,506 84,501" stroke="#000" stroke-width="1.3" fill="none"/>
<text class="leg" x="92" y="509" textLength="348" lengthAdjust="spacingAndGlyphs">– голова/стебель (cap/stem) (по Sriwilaijaroen и Suzuki, 2012)</text>
</g>
</g>
</svg>
